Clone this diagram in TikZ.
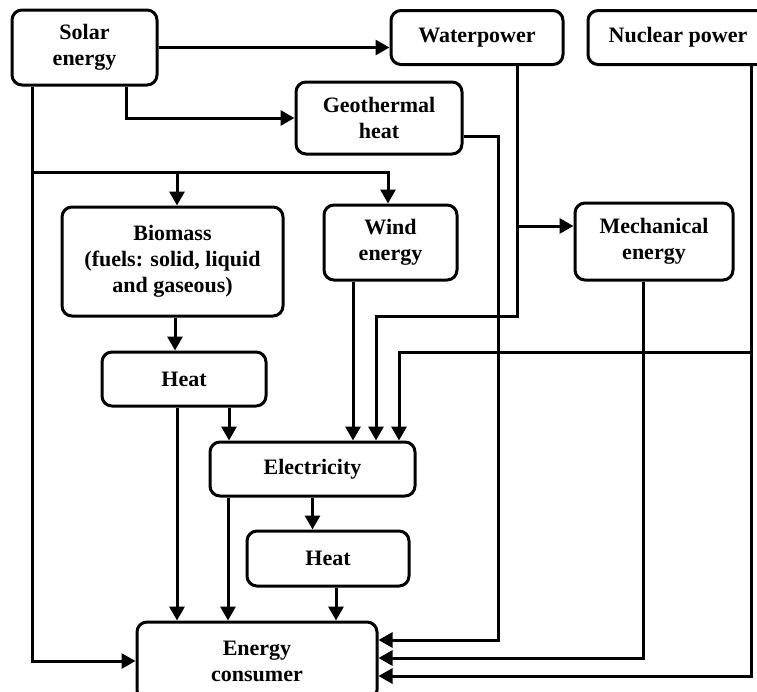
\documentclass[tikz,border=0pt]{standalone}
\usepackage{fontspec}
\setmainfont{Liberation Serif}
\usetikzlibrary{arrows.meta}

\begin{document}
\begin{tikzpicture}[x=1pt,y=-1pt,
  box/.style={draw,line width=3pt,rounded corners=10pt,align=center,inner sep=0pt,
    font=\fontsize{22}{26}\selectfont\bfseries},
  link/.style={line width=3pt,-{Triangle[length=14pt,width=15pt]}}]
\clip (0,0) rectangle (757,691);
% boxes
\node[box,minimum width=145pt,minimum height=75pt] (solar) at (84.5,47.5) {Solar\\energy};
\node[box,minimum width=172pt,minimum height=54pt] (water) at (477,37.5) {Waterpower};
\node[box,minimum width=180pt,minimum height=54pt] (nuc) at (678,37.5) {Nuclear power};
\node[box,minimum width=166pt,minimum height=72pt] (geo) at (379,118) {Geothermal\\heat};
\node[box,minimum width=221pt,minimum height=109pt] (bio) at (172.5,261.5) {Biomass\\(fuels: solid, liquid\\and gaseous)};
\node[box,minimum width=133pt,minimum height=75pt] (wind) at (390.5,242.5) {Wind\\energy};
\node[box,minimum width=158pt,minimum height=77pt] (mech) at (654,241.5) {Mechanical\\energy};
\node[box,minimum width=164pt,minimum height=54pt] (heat) at (184,379) {Heat};
\node[box,minimum width=205pt,minimum height=54pt] (elec) at (312.5,469) {Electricity};
\node[box,minimum width=162pt,minimum height=55pt] (heat2) at (328,558.5) {Heat};
\node[box,minimum width=240pt,minimum height=78pt] (cons) at (257,661) {Energy\\consumer};
% solar energy
\coordinate (fork) at (32,172);
\draw[link] (solar.east) -- (solar.east -| water.west);
\draw[link] ([xshift=41.5pt]solar.south) |- (geo.west);
\draw[link] ([xshift=-52.5pt]solar.south) |- (cons.west);
\draw[link] (fork) -| ([xshift=-2.5pt]wind.north);
\draw[link] ([xshift=4.5pt]bio.north |- fork) -- ([xshift=4.5pt]bio.north);
% biomass
\draw[link] ([xshift=2.5pt]bio.south) -- ([xshift=2.5pt]bio.south |- heat.north);
% heat
\draw[link] ([xshift=-7pt]heat.south) -- ([xshift=-7pt]heat.south |- cons.north);
\draw[link] ([xshift=45pt]heat.south) -- ([xshift=45pt]heat.south |- elec.north);
% wind energy
\draw[link] ([xshift=-37.5pt]wind.south) -- ([xshift=-37.5pt]wind.south |- elec.north);
% waterpower
\coordinate (wturn) at (376,316);
\coordinate (wtap) at (517,226);
\draw[link] ([xshift=40pt]water.south) |- (wturn) -- (wturn |- elec.north);
\draw[link] (wtap) -- (wtap -| mech.west);
% nuclear power
\coordinate (nturn) at (399,352);
\draw[link] ([xshift=73pt]nuc.south) |- ([yshift=-15pt]cons.east);
\draw[link] ([xshift=73pt]nuc.south |- nturn) -- (nturn) -- (nturn |- elec.north);
% geothermal heat
\coordinate (gturn) at (498,136);
\draw[link] ([yshift=-18pt]geo.east) -- (gturn) |- ([yshift=21pt]cons.east);
% mechanical energy
\draw[link] ([xshift=-11pt]mech.south) |- ([yshift=3pt]cons.east);
% electricity
\draw[link] (elec.south) -- (elec.south |- heat2.north);
\draw[link] ([xshift=-84.5pt]elec.south) -- ([xshift=-84.5pt]elec.south |- cons.north);
% heat
\draw[link] ([xshift=8pt]heat2.south) -- ([xshift=8pt]heat2.south |- cons.north);
\end{tikzpicture}
\end{document}
